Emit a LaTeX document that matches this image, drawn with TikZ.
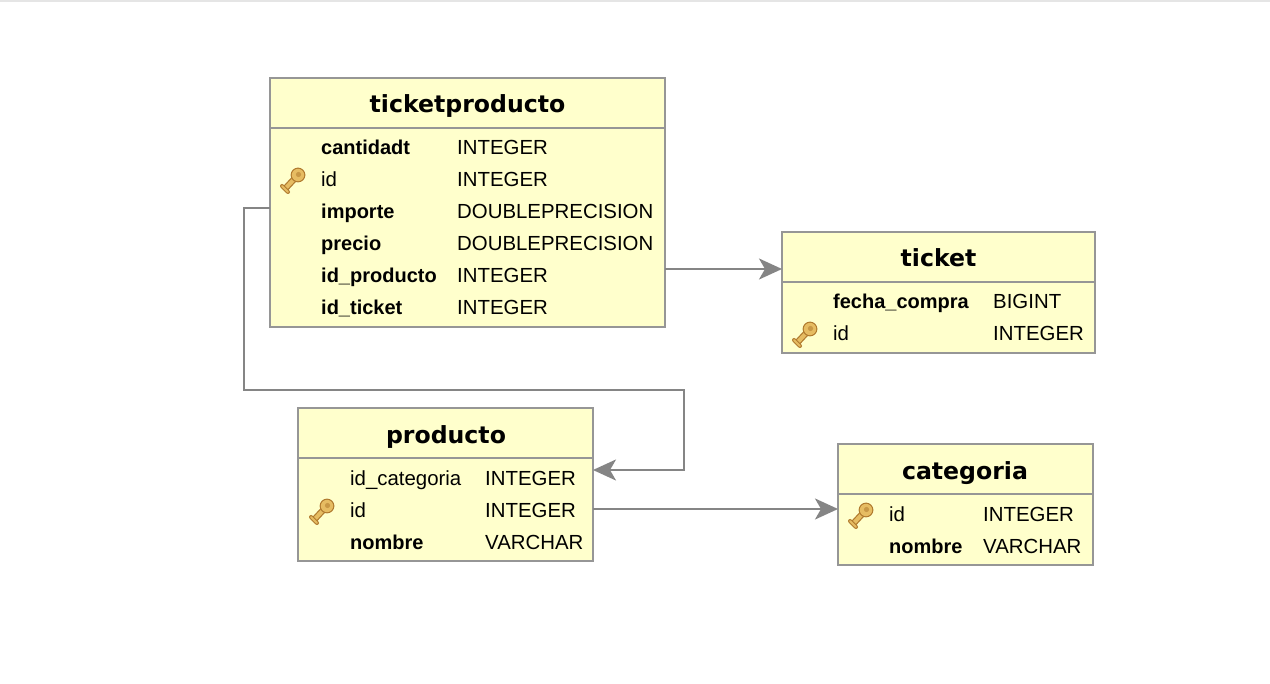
\documentclass[tikz,border=0pt]{standalone}
\usepackage{fontspec}
\setmainfont{Liberation Sans}
\newfontfamily\titlefont{DejaVu Sans}
\usetikzlibrary{arrows.meta}
\definecolor{tablefill}{HTML}{FFFFCC}
\definecolor{edgegray}{HTML}{969696}
\definecolor{linegray}{HTML}{858585}
\definecolor{keygold}{HTML}{E6BC62}
\definecolor{keydark}{HTML}{B07A2E}
\tikzset{
  x=1pt,y=-1pt,
  tablebox/.style={draw=edgegray,fill=tablefill,line width=2pt,inner sep=0pt,outer sep=0pt,anchor=north west},
  tabletitle/.style={font=\titlefont\fontsize{23.6}{24}\selectfont\bfseries,text=black,inner sep=0pt,anchor=base},
  colname/.style={font=\fontsize{20.4}{20}\selectfont,text=black,inner sep=0pt,anchor=base west},
  colbold/.style={font=\fontsize{20}{20}\selectfont\bfseries,text=black,inner sep=0pt,anchor=base west},
  conn/.style={draw=linegray,line width=2pt},
  connarrow/.style={conn,-{Stealth[length=23pt,width=21pt,inset=6pt,fill=linegray]}},
  sep/.style={draw=edgegray,line width=2pt},
  pics/keyicon/.style={code={
    \draw[keydark,line width=6.4pt] (-9,9) -- (4,-5);
    \draw[keygold,line width=4pt] (-9,9) -- (4,-5);
    \draw[keydark,line width=4pt,line cap=round] (-11,5) -- (-5,11);
    \draw[keygold,line width=2pt,line cap=round] (-11,5) -- (-5,11);
    \fill[keydark] (5,-6) circle (7.4pt);
    \fill[keygold] (5,-6) circle (6.2pt);
    \fill[keydark!55!keygold] (5.5,-6.5) circle (2.6pt);
  }}
}
\newcommand{\colrow}[7]{% name prefix, style, x1, x2, y, name, type
  \node[#2] (#1n) at (#3,#5) {#6};
  \node[colname] (#1t) at (#4,#5) {#7};
}
\begin{document}
\begin{tikzpicture}
\useasboundingbox (0,0) rectangle (1270,684);
\fill[white] (0,0) rectangle (1270,684);
\draw[black!10,line width=1.5pt] (0,1) -- (1270,1);

% ticketproducto
\node[tablebox,minimum width=395pt,minimum height=249pt] (tp) at (270,78) {};
\draw[sep] (tp.west |- 0,128) -- (tp.east |- 0,128);
\node[tabletitle] (tpT) at (467.5,113) {ticketproducto};
\colrow{tpa}{colbold}{321}{457}{154.5}{cantidadt}{INTEGER}
\colrow{tpb}{colname}{321}{457}{186.5}{id}{INTEGER}
\colrow{tpc}{colbold}{321}{457}{218.5}{importe}{DOUBLEPRECISION}
\colrow{tpd}{colbold}{321}{457}{250.5}{precio}{DOUBLEPRECISION}
\colrow{tpe}{colbold}{321}{457}{282.5}{id\_producto}{INTEGER}
\colrow{tpf}{colbold}{321}{457}{314.5}{id\_ticket}{INTEGER}
\pic at (293,181) {keyicon};

% ticket
\node[tablebox,minimum width=313pt,minimum height=121pt] (ti) at (782,232) {};
\draw[sep] (ti.west |- 0,282) -- (ti.east |- 0,282);
\node[tabletitle] (tiT) at (938.5,267) {ticket};
\colrow{tia}{colbold}{833}{993}{308.5}{fecha\_compra}{BIGINT}
\colrow{tib}{colname}{833}{993}{340.5}{id}{INTEGER}
\pic at (805,335) {keyicon};

% producto
\node[tablebox,minimum width=295pt,minimum height=153pt] (pr) at (298,408) {};
\draw[sep] (pr.west |- 0,458) -- (pr.east |- 0,458);
\node[tabletitle] (prT) at (446,444) {producto};
\colrow{pra}{colname}{350}{485}{485.5}{id\_categoria}{INTEGER}
\colrow{prb}{colname}{350}{485}{517.5}{id}{INTEGER}
\colrow{prc}{colbold}{350}{485}{549.5}{nombre}{VARCHAR}
\pic at (322,512) {keyicon};

% categoria
\node[tablebox,minimum width=255pt,minimum height=121pt] (ca) at (838,444) {};
\draw[sep] (ca.west |- 0,494) -- (ca.east |- 0,494);
\node[tabletitle] (caT) at (965,480) {categoria};
\colrow{caa}{colname}{889}{983}{521.5}{id}{INTEGER}
\colrow{cab}{colbold}{889}{983}{553.5}{nombre}{VARCHAR}
\pic at (861,516) {keyicon};

% connectors
\draw[connarrow] ([yshift=-66.5pt]tp.east) -- ([yshift=23.5pt]ti.west);
\draw[connarrow] ([yshift=-5.5pt]tp.west) -- ++(-26,0) |- (684,390) -- (684,470) -- ([yshift=14.5pt]pr.east);
\draw[connarrow] ([yshift=-24.5pt]pr.east) -- ([yshift=-4.5pt]ca.west);
\end{tikzpicture}
\end{document}
